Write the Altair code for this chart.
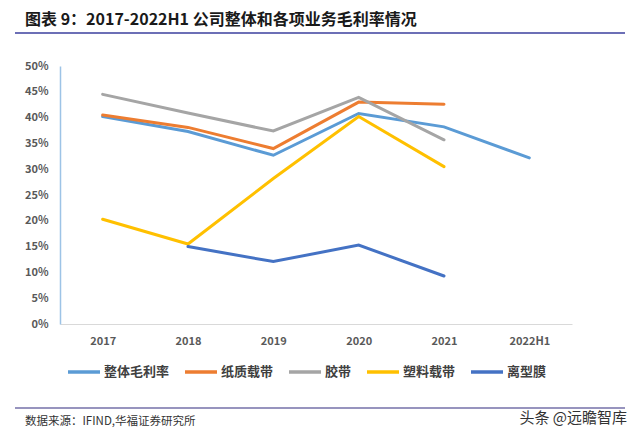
import altair as alt
import pandas as pd

categories = ["2017", "2018", "2019", "2020", "2021", "2022H1"]
series_names = ["整体毛利率", "纸质载带", "胶带", "塑料载带", "离型膜"]
overall = [40.2, 37.3, 32.7, 40.8, 38.2, 32.2]
paper = [40.5, 38.1, 34.0, 43.0, 42.6, None]
tape = [44.5, 40.9, 37.4, 43.9, 35.7, None]
plastic = [20.3, 15.5, 28.2, 40.2, 30.5, None]
film = [None, 15.0, 12.1, 15.3, 9.3, None]
colors = ["#5B9BD5", "#ED7D31", "#A5A5A5", "#FFC000", "#4472C4"]
y_ticks = [0, 0.05, 0.10, 0.15, 0.20, 0.25, 0.30, 0.35, 0.40, 0.45, 0.50]

title_text = "图表 9：2017-2022H1 公司整体和各项业务毛利率情况"
source_text = "数据来源：IFIND,华福证券研究所"
watermark_text = "头条 @远瞻智库"

rows = []
for name, vals in zip(series_names, [overall, paper, tape, plastic, film]):
    for c, v in zip(categories, vals):
        if v is not None:
            rows.append({"year": c, "series": name, "value": v / 100})
df = pd.DataFrame(rows)

FONT = "Noto Sans CJK SC"
W, H = 512, 258

lines = alt.Chart(df).mark_line(strokeWidth=3, strokeCap="round").encode(
    x=alt.X("year:O", sort=categories,
            scale=alt.Scale(type="point", domain=categories, padding=0.5),
            axis=alt.Axis(title=None, labelAngle=0, ticks=False, domain=True,
                          domainColor="#D9D9D9", domainWidth=1,
                          labelFont=FONT, labelFontSize=11, labelFontWeight="bold",
                          labelColor="#595959", labelPadding=11, grid=False)),
    y=alt.Y("value:Q", scale=alt.Scale(domain=[0, 0.5], nice=False),
            axis=alt.Axis(title=None, values=y_ticks, format=".0%", ticks=False,
                          domain=True, domainColor="#9DC3E6", domainWidth=1.5,
                          labelFont=FONT, labelFontSize=11, labelFontWeight="bold",
                          labelColor="#595959", labelPadding=12, grid=False)),
    color=alt.Color("series:N", sort=series_names,
                    scale=alt.Scale(domain=series_names, range=colors),
                    legend=alt.Legend(title=None, orient="none", direction="horizontal",
                                      legendX=6, legendY=288,
                                      symbolType="stroke", symbolSize=1024,
                                      symbolStrokeWidth=3.5, labelOffset=2,
                                      columnPadding=8, labelFont=FONT,
                                      labelFontSize=13, labelFontWeight="bold",
                                      labelColor="#404040")),
    order=alt.Order("year:O"),
)

one = pd.DataFrame({"k": [0]})

title = alt.Chart(one).mark_text(align="left", baseline="middle", font=FONT,
                                 fontSize=16, fontWeight="bold", color="#1a1a1a").encode(
    x=alt.value(25 - 60), y=alt.value(20 - 66), text=alt.value(title_text))

top_rule = alt.Chart(one).mark_rule(color="#3B3F9E", strokeWidth=1.5).encode(
    x=alt.value(15 - 60), x2=alt.value(625 - 60), y=alt.value(33 - 66))

bottom_rule = alt.Chart(one).mark_rule(color="#7470A8", strokeWidth=1.5).encode(
    x=alt.value(15 - 60), x2=alt.value(625 - 60), y=alt.value(408 - 66))

source = alt.Chart(one).mark_text(align="left", baseline="middle", font=FONT,
                                  fontSize=11.5, color="#333333").encode(
    x=alt.value(25 - 60), y=alt.value(422 - 66), text=alt.value(source_text))

watermark = alt.Chart(one).mark_text(align="right", baseline="middle", font=FONT,
                                     fontSize=15, color="#333333").encode(
    x=alt.value(627 - 60), y=alt.value(418 - 66), text=alt.value(watermark_text))

chart = alt.layer(lines, top_rule, bottom_rule, title, source, watermark).properties(
    width=W, height=H,
    autosize=alt.AutoSizeParams(type="none"),
    padding={"left": 52, "top": 58, "right": 56, "bottom": 105},
).configure_view(stroke=None)

chart.save("out.html", embed_options={"renderer": "svg", "actions": False})
